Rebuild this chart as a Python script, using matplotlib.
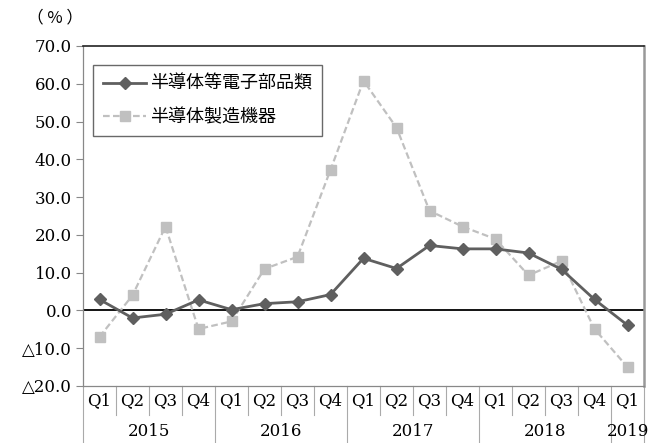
import matplotlib
matplotlib.use("Agg")
import matplotlib.pyplot as plt
import matplotlib.transforms as mtransforms

plt.rcParams['font.family'] = ['DejaVu Serif', 'Noto Sans CJK JP']

quarters = ["Q1", "Q2", "Q3", "Q4", "Q1", "Q2", "Q3", "Q4", "Q1", "Q2", "Q3", "Q4",
            "Q1", "Q2", "Q3", "Q4", "Q1"]
years = ["2015", "2016", "2017", "2018", "2019"]
year_counts = [4, 4, 4, 4, 1]

series_parts = "半導体等電子部品類"
series_equip = "半導体製造機器"
parts = [2.9, -2.0, -1.0, 2.8, 0.2, 1.8, 2.3, 4.2, 13.8, 11.1, 17.2, 16.3,
         16.3, 15.2, 10.9, 2.9, -3.9]
equip = [-7.0, 4.0, 22.2, -4.9, -2.9, 11.0, 14.2, 37.2, 60.8, 48.4, 26.4, 22.2,
         18.9, 9.3, 13.1, -4.9, -15.0]

FS = 12
W, H = 659, 443
fig = plt.figure(figsize=(W / 100, H / 100), dpi=100)
ax = fig.add_axes([83 / W, 1 - 386 / H, (644 - 83) / W, (386 - 46) / H])

x = list(range(len(quarters)))
ax.plot(x, parts, color="#5f5f5f", lw=2.0, marker="D", ms=6.5, label=series_parts,
        zorder=4)
ax.plot(x, equip, color="#c0c0c0", lw=1.6, ls=(0, (3, 1.5)), marker="s", ms=6.5,
        label=series_equip, zorder=3)
ax.axhline(0, color="black", lw=1.3, zorder=2)

ax.set_xlim(-0.5, len(quarters) - 0.5)
ax.set_ylim(-20, 70)
yt = list(range(-20, 71, 10))
ax.set_yticks(yt)
ax.set_yticklabels([f"{v:.1f}" if v >= 0 else f"△{abs(v):.1f}" for v in yt],
                   fontsize=FS)
ax.tick_params(axis="y", length=5, color="#888888", width=0.8, pad=3)
ax.set_xticks([])

for side in ["left", "bottom"]:
    ax.spines[side].set_color("#888888")
    ax.spines[side].set_linewidth(0.9)
ax.spines["top"].set_color("#222222")
ax.spines["top"].set_linewidth(1.2)
ax.spines["right"].set_color("#999999")
ax.spines["right"].set_linewidth(1.8)

# category table under the plot
trans = mtransforms.blended_transform_factory(ax.transData, ax.transAxes)
row1 = -(415 - 386) / (386 - 46)
row2 = -(443 - 386) / (386 - 46)
for i, q in enumerate(quarters):
    ax.text(i, row1 / 2, q, transform=trans, ha="center", va="center",
            fontsize=FS, clip_on=False)
pos = 0
bounds = [-0.5]
for y, n in zip(years, year_counts):
    ax.text(pos + (n - 1) / 2, -(432 - 386) / (386 - 46), y, transform=trans,
            ha="center", va="center", fontsize=FS, clip_on=False)
    pos += n
    bounds.append(pos - 0.5)
for i in range(1, len(quarters)):
    b = i - 0.5
    if b in bounds:
        continue
    ax.plot([b, b], [0, row1], transform=trans, color="#aaaaaa", lw=0.8,
            clip_on=False)
for b in bounds:
    ax.plot([b, b], [0, row2], transform=trans, color="#aaaaaa", lw=0.8,
            clip_on=False)

fig.text(55 / W, 1 - 18 / H, "（ % ）", ha="center", va="center", fontsize=FS,
         family=["Noto Sans CJK JP"])

leg = ax.legend(loc="upper left", bbox_to_anchor=(93 / W, 1 - 65 / H),
                bbox_transform=fig.transFigure, borderaxespad=0,
                frameon=True, fancybox=False, handlelength=2.4, handletextpad=0.2,
                labelspacing=0.85, borderpad=0.55,
                prop={"family": ["Noto Sans CJK JP"], "size": 13})
leg.get_frame().set_edgecolor("#444444")
leg.get_frame().set_linewidth(1.0)

fig.savefig("out.png", dpi=100)
